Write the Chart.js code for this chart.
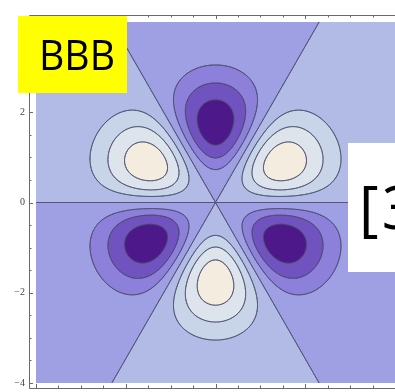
<!DOCTYPE html>
<html>
<head>
<meta charset="utf-8">
<script src="https://cdn.jsdelivr.net/npm/chart.js@4.4.0/dist/chart.umd.min.js"></script>
<style>
  html, body { margin: 0; padding: 0; background: #fff; }
  canvas { display: block; }
</style>
</head>
<body>
<canvas id="orbitalChart" width="395" height="392"></canvas>
<script>
// contour levels (relative to the lobe maximum) and the fills of the bands between them
const contourLevels = [-0.78, -0.5, -0.25, 0, 0.25, 0.5, 0.78];
const bandColors = ['#4c188a', '#7153bf', '#8c80da', '#9ea0e3', '#b1bbe6', '#c8d5e8', '#dde4eb', '#f4eddf'];
// radius (axis units) where the six lobes peak
const lobePeakRadius = 1.75;
const axisRange = [-4, 4];
const yTickValues = [-4, -2, 0, 2, 4];
const yTickLabels = ['−4', '−2', '0', '2', '4'];
const minorTickStep = 0.5;
const cornerLabel = 'BBB';
const sideLabel = '[3]';

// three-fold angular part times a radial bump, max = 1 at r = lobePeakRadius
function field(x, y) {
    const r0 = lobePeakRadius;
    const r2 = (x * x + y * y) / (r0 * r0);
    return (3 * x * x * y - y * y * y) / (r0 * r0 * r0) * Math.exp(1.5 * (1 - r2));
}

function hexToRgb(hex) {
    const n = parseInt(hex.slice(1), 16);
    return [(n >> 16) & 255, (n >> 8) & 255, n & 255];
}

function bandIndex(v) {
    let k = 0;
    while (k < contourLevels.length && v > contourLevels[k]) k++;
    return k;
}

const contourField = {
    id: 'contourField',
    beforeDatasetsDraw(chart) {
        const { ctx, chartArea: a, scales: { x, y } } = chart;
        const w = Math.round(a.right - a.left);
        const h = Math.round(a.bottom - a.top);

        // filled bands, one sample per pixel
        const off = document.createElement('canvas');
        off.width = w;
        off.height = h;
        const octx = off.getContext('2d');
        const img = octx.createImageData(w, h);
        const rgb = bandColors.map(hexToRgb);
        for (let py = 0; py < h; py++) {
            const vy = y.getValueForPixel(a.top + py + 0.5);
            for (let px = 0; px < w; px++) {
                const vx = x.getValueForPixel(a.left + px + 0.5);
                const c = rgb[bandIndex(field(vx, vy))];
                const o = (py * w + px) * 4;
                img.data[o] = c[0];
                img.data[o + 1] = c[1];
                img.data[o + 2] = c[2];
                img.data[o + 3] = 255;
            }
        }
        octx.putImageData(img, 0, 0);
        ctx.drawImage(off, a.left, a.top);

        // contour lines by marching squares
        const step = 0.02;
        const n = Math.round((axisRange[1] - axisRange[0]) / step) + 1;
        const gv = [];
        for (let i = 0; i < n; i++) gv.push(axisRange[0] + i * step + 0.0037);
        const grid = [];
        for (let j = 0; j < n; j++) {
            const row = new Float64Array(n);
            for (let i = 0; i < n; i++) row[i] = field(gv[i], gv[j]);
            grid.push(row);
        }

        ctx.save();
        ctx.beginPath();
        ctx.rect(a.left, a.top, a.right - a.left, a.bottom - a.top);
        ctx.clip();
        ctx.beginPath();
        for (const level of contourLevels) {
            for (let j = 0; j < n - 1; j++) {
                for (let i = 0; i < n - 1; i++) {
                    const corners = [
                        [gv[i], gv[j], grid[j][i]],
                        [gv[i + 1], gv[j], grid[j][i + 1]],
                        [gv[i + 1], gv[j + 1], grid[j + 1][i + 1]],
                        [gv[i], gv[j + 1], grid[j + 1][i]]
                    ];
                    const pts = [];
                    for (let e = 0; e < 4; e++) {
                        const p = corners[e], q = corners[(e + 1) % 4];
                        if ((p[2] > level) !== (q[2] > level)) {
                            const t = (level - p[2]) / (q[2] - p[2]);
                            pts.push([p[0] + t * (q[0] - p[0]), p[1] + t * (q[1] - p[1])]);
                        }
                    }
                    for (let k = 0; k + 1 < pts.length; k += 2) {
                        ctx.moveTo(x.getPixelForValue(pts[k][0]), y.getPixelForValue(pts[k][1]));
                        ctx.lineTo(x.getPixelForValue(pts[k + 1][0]), y.getPixelForValue(pts[k + 1][1]));
                    }
                }
            }
        }
        ctx.strokeStyle = 'rgba(72, 74, 108, 0.7)';
        ctx.lineWidth = 1;
        ctx.lineCap = 'round';
        ctx.stroke();
        ctx.restore();
    },
    afterDraw(chart) {
        const { ctx, chartArea: a, scales: { x, y } } = chart;
        const fx = a.left - 7, fy = a.top - 7, fb = a.bottom + 5;

        // frame
        ctx.save();
        ctx.strokeStyle = '#6a6a6a';
        ctx.lineWidth = 1;
        ctx.beginPath();
        ctx.moveTo(a.right + 2, fy + 0.5);
        ctx.lineTo(fx + 0.5, fy + 0.5);
        ctx.lineTo(fx + 0.5, fb + 0.5);
        ctx.lineTo(a.right + 2, fb + 0.5);
        ctx.stroke();

        // ticks, pointing into the frame
        ctx.beginPath();
        for (let v = axisRange[0]; v <= axisRange[1] + 1e-9; v += minorTickStep) {
            const len = Math.abs(v % 2) < 1e-9 ? 4 : 2.5;
            const px = Math.round(x.getPixelForValue(v)) + 0.5;
            ctx.moveTo(px, fb);
            ctx.lineTo(px, fb - len);
            ctx.moveTo(px, fy);
            ctx.lineTo(px, fy + len);
            const py = Math.round(y.getPixelForValue(v)) + 0.5;
            ctx.moveTo(fx, py);
            ctx.lineTo(fx + len, py);
        }
        ctx.stroke();

        // y tick labels
        ctx.fillStyle = '#444';
        ctx.font = '10px "Liberation Serif", serif';
        ctx.textAlign = 'right';
        ctx.textBaseline = 'middle';
        yTickValues.forEach((v, i) => {
            ctx.fillText(yTickLabels[i], fx - 4, y.getPixelForValue(v));
        });

        // yellow corner tag
        ctx.fillStyle = '#ffff00';
        ctx.fillRect(18, 16, 109, 77);
        ctx.fillStyle = '#000';
        ctx.font = '42px "Open Sans", sans-serif';
        ctx.textAlign = 'left';
        ctx.textBaseline = 'alphabetic';
        const tw = ctx.measureText(cornerLabel).width;
        ctx.save();
        ctx.translate(39, 70);
        ctx.scale(76 / tw, 1);
        ctx.fillText(cornerLabel, 0, 0);
        ctx.restore();

        // white side tag
        ctx.fillStyle = '#ffffff';
        ctx.fillRect(348, 143, 47, 129);
        ctx.fillStyle = '#000';
        ctx.font = '60px "Open Sans", sans-serif';
        ctx.letterSpacing = '3px';
        ctx.fillText(sideLabel, 359, 229);
        ctx.restore();
    }
};

new Chart(document.getElementById('orbitalChart'), {
    type: 'scatter',
    data: { datasets: [] },
    options: {
        responsive: false,
        animation: false,
        layout: { padding: { left: 36, top: 22, right: 0, bottom: 9 } },
        plugins: { legend: { display: false }, tooltip: { enabled: false } },
        scales: {
            x: { type: 'linear', min: axisRange[0], max: axisRange[1], display: false },
            y: { type: 'linear', min: axisRange[0], max: axisRange[1], display: false }
        }
    },
    plugins: [contourField]
});
</script>
</body>
</html>
